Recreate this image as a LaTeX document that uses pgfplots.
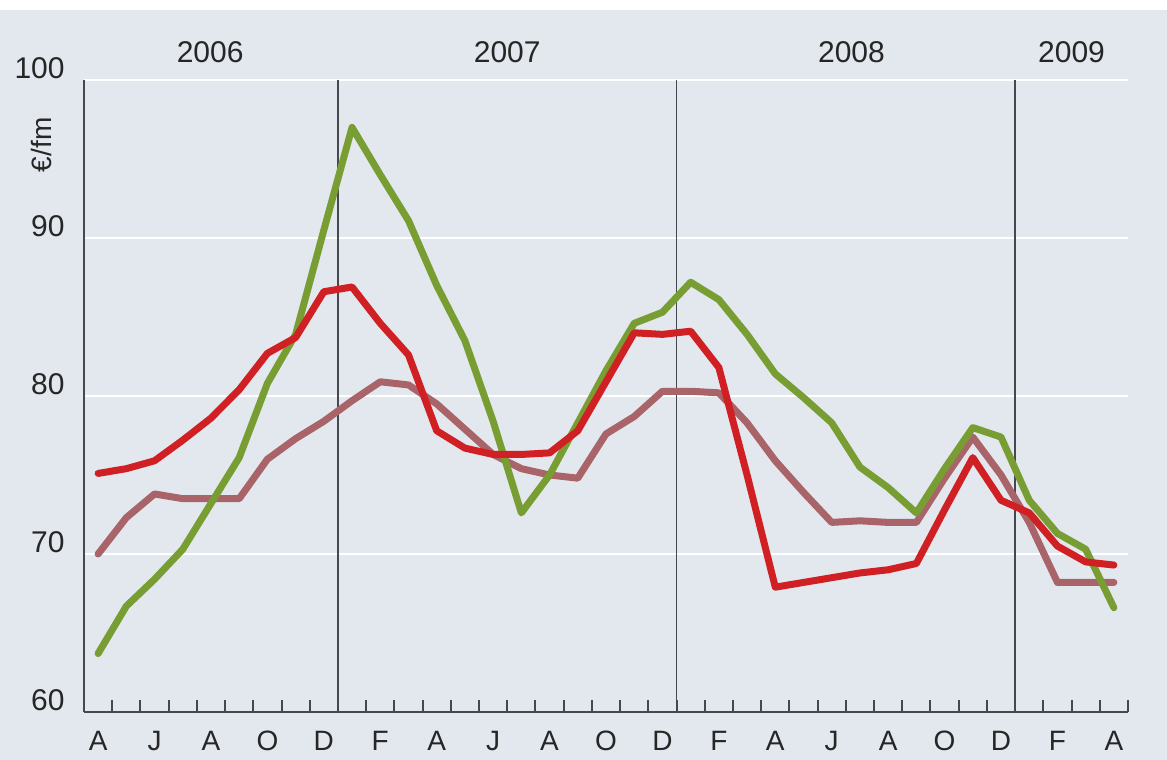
\documentclass[border=0pt]{standalone}
\usepackage{fontspec}
\setmainfont{Liberation Sans}
\usepackage{pgfplots}
\pgfplotsset{compat=1.18}
\definecolor{bg}{RGB}{227,232,239}
\definecolor{ax}{RGB}{70,72,80}
\definecolor{grn}{RGB}{120,157,50}
\definecolor{rd}{RGB}{208,32,36}
\definecolor{brn}{RGB}{168,100,104}
\begin{document}
\begin{tikzpicture}
\useasboundingbox (0,0) rectangle (583.5pt,380pt);
\fill[bg] (0,0) rectangle (583.5pt,375pt);
\begin{axis}[at={(42pt,24pt)}, anchor=south west, scale only axis,
  width=522pt, height=316pt,
  xmin=0, xmax=37, ymin=60, ymax=100, clip=false,
  axis line style={draw=none},
  xtick={0.5,2.5,4.5,6.5,8.5,10.5,12.5,14.5,16.5,18.5,20.5,22.5,24.5,26.5,28.5,30.5,32.5,34.5,36.5},
  xticklabels={A,J,A,O,D,F,A,J,A,O,D,F,A,J,A,O,D,F,A},
  minor xtick={1,2,...,37},
  ytick={60,70,80,90,100},
  major tick length=0pt, minor tick length=6pt, tick align=inside,
  xtick pos=bottom, ytick pos=left,
  minor tick style={line width=1pt, color=ax},
  ymajorgrids, major grid style={white, line width=1.2pt},
  /pgf/number format/assume math mode=true,
  tick label style={font=\fontsize{15}{18}\selectfont, text=black!85},
  yticklabel style={anchor=south east, inner sep=0pt, xshift=-9.5pt, yshift=0.5pt},
  xticklabel style={anchor=north, inner sep=0pt, yshift=-9.5pt, font=\fontsize{14}{17}\selectfont},
  every axis plot/.append style={no markers, line width=3.5pt, line join=round, line cap=round},
]
\draw[ax, line width=0.9pt] (axis cs:9,60) -- (axis cs:9,100);
\draw[ax, line width=0.9pt] (axis cs:21,60) -- (axis cs:21,100);
\draw[ax, line width=0.9pt] (axis cs:33,60) -- (axis cs:33,100);
\draw[ax, line width=1pt] (axis cs:0,60) -- (axis cs:0,100);
\draw[ax, line width=1.3pt] (axis cs:0,60) -- (axis cs:37,60);
\node[font=\fontsize{15}{18}\selectfont, text=black!85, inner sep=0pt] at ([yshift=14pt]axis cs:4.47,100) {2006};
\node[font=\fontsize{15}{18}\selectfont, text=black!85, inner sep=0pt] at ([yshift=14pt]axis cs:15.0,100) {2007};
\node[font=\fontsize{15}{18}\selectfont, text=black!85, inner sep=0pt] at ([yshift=14pt]axis cs:27.2,100) {2008};
\node[font=\fontsize{15}{18}\selectfont, text=black!85, inner sep=0pt] at ([yshift=14pt]axis cs:35.0,100) {2009};
\node[font=\fontsize{14}{16}\selectfont, text=black!85, inner sep=0pt, rotate=90] at (axis cs:-1.49,95.9) {€/fm};
% brown
\addplot[brn] coordinates {
(0.5,70.0)(1.5,72.3)(2.5,73.8)(3.5,73.5)(4.5,73.5)(5.5,73.5)(6.5,76.0)(7.5,77.3)(8.5,78.4)(9.5,79.7)
(10.5,80.9)(11.5,80.7)(12.5,79.5)(13.5,77.9)(14.5,76.3)(15.5,75.4)(16.5,75.0)(17.5,74.8)(18.5,77.6)(19.5,78.7)
(20.5,80.3)(21.5,80.3)(22.5,80.2)(23.5,78.3)(24.5,75.9)(25.5,73.9)(26.5,72.0)(27.5,72.1)(28.5,72.0)(29.5,72.0)
(30.5,74.8)(31.5,77.4)(32.5,75.0)(33.5,72.0)(34.5,68.2)(35.5,68.2)(36.5,68.2)};
% green
\addplot[grn] coordinates {
(0.5,63.7)(1.5,66.7)(2.5,68.4)(3.5,70.3)(4.5,73.2)(5.5,76.1)(6.5,80.8)(7.5,83.9)(8.5,90.5)(9.5,97.0)
(10.5,94.0)(11.5,91.1)(12.5,87.0)(13.5,83.5)(14.5,78.4)(15.5,72.6)(16.5,75.0)(17.5,78.3)(18.5,81.6)(19.5,84.6)
(20.5,85.3)(21.5,87.2)(22.5,86.1)(23.5,83.9)(24.5,81.4)(25.5,79.9)(26.5,78.3)(27.5,75.5)(28.5,74.2)(29.5,72.6)
(30.5,75.4)(31.5,78.0)(32.5,77.4)(33.5,73.4)(34.5,71.3)(35.5,70.3)(36.5,66.6)};
% red
\addplot[rd] coordinates {
(0.5,75.1)(1.5,75.4)(2.5,75.9)(3.5,77.2)(4.5,78.6)(5.5,80.4)(6.5,82.7)(7.5,83.7)(8.5,86.6)(9.5,86.9)
(10.5,84.6)(11.5,82.6)(12.5,77.8)(13.5,76.7)(14.5,76.3)(15.5,76.3)(16.5,76.4)(17.5,77.8)(18.5,80.9)(19.5,84.0)
(20.5,83.9)(21.5,84.1)(22.5,81.8)(23.5,75.0)(24.5,67.9)(25.5,68.2)(26.5,68.5)(27.5,68.8)(28.5,69.0)(29.5,69.4)
(30.5,72.8)(31.5,76.1)(32.5,73.4)(33.5,72.6)(34.5,70.5)(35.5,69.5)(36.5,69.3)};
\end{axis}
\end{tikzpicture}
\end{document}
